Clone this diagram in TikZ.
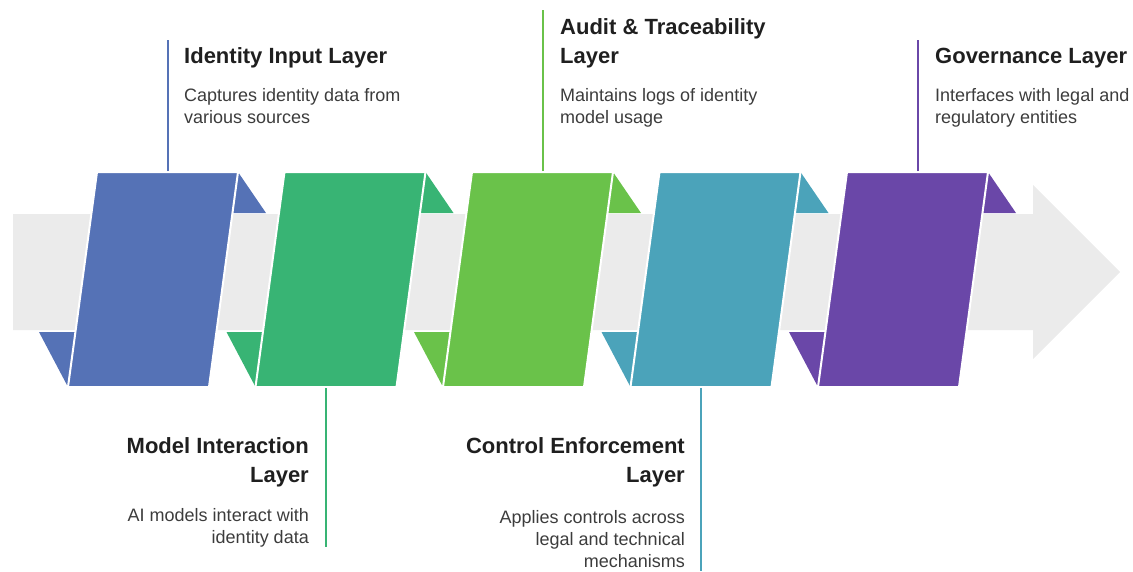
\documentclass[tikz,border=0pt]{standalone}
\usepackage{fontspec}
\setmainfont{Liberation Sans}
\definecolor{cA}{HTML}{5572B6}
\definecolor{cB}{HTML}{38B474}
\definecolor{cC}{HTML}{6AC24A}
\definecolor{cD}{HTML}{4BA3BA}
\definecolor{cE}{HTML}{6A47A8}
\definecolor{bandc}{HTML}{EBEBEB}
\definecolor{ttlc}{HTML}{1F1F1F}
\definecolor{descc}{HTML}{3C3C3C}
\tikzset{
  band/.style={fill=bandc},
  panel/.style={draw=white, line width=2pt},
  conn/.style={line width=2pt},
  ttl/.style={inner sep=0pt, text=ttlc, font=\bfseries\fontsize{22}{29}\selectfont},
  desc/.style={inner sep=0pt, text=descc, font=\fontsize{18}{22}\selectfont},
}
\begin{document}
\begin{tikzpicture}[x=1pt,y=-1pt]
\useasboundingbox (0,0) rectangle (1133,571);
\fill[band] (13,214) -- (1033,214) -- (1033,185) -- (1120,272) -- (1033,359) -- (1033,330) -- (13,330) -- cycle;
\foreach \X/\c/\n in {97/cA/1, 284.5/cB/2, 472/cC/3, 659.5/cD/4, 847/cE/5} {
  \fill[\c] (\X+141,172) -- (\X+135.6,213) -- (\X+169,213) -- cycle;
  \fill[\c] (\X-58,332) -- (\X-21.2,332) -- (\X-29,387) -- cycle;
  \filldraw[panel, fill=\c] (\X,172) -- (\X+141,172) -- (\X+112,387) -- (\X-29,387) -- cycle;
  \coordinate (top\n) at (\X+70.5,171);
  \coordinate (bot\n) at (\X+41.5,388);
}
\coordinate (e1) at (167.5,40);
\coordinate (e2) at (326,547);
\coordinate (e3) at (542.5,10);
\coordinate (e4) at (701,571);
\coordinate (e5) at (917.5,40);
\draw[conn, cA] (top1) -- (e1);
\draw[conn, cB] (bot2) -- (e2);
\draw[conn, cC] (top3) -- (e3);
\draw[conn, cD] (bot4) -- (e4);
\draw[conn, cE] (top5) -- (e5);

\node[ttl, anchor=base west] (t1) at (184,63.5) {Identity Input Layer};
\node[desc, anchor=base west, align=left] (d1) at (184,123) {Captures identity data from\\various sources};
\node[ttl, anchor=base east, align=right] (t2) at (309,482.5) {Model Interaction\\Layer};
\node[desc, anchor=base east, align=right] (d2) at (309,543) {AI models interact with\\identity data};
\node[ttl, anchor=base west, align=left] (t3) at (560,63.5) {Audit \& Traceability\\Layer};
\node[desc, anchor=base west, align=left] (d3) at (560,123) {Maintains logs of identity\\model usage};
\node[ttl, anchor=base east, align=right] (t4) at (685,482.5) {Control Enforcement\\Layer};
\node[desc, anchor=base east, align=right] (d4) at (685,567) {Applies controls across\\legal and technical\\mechanisms};
\node[ttl, anchor=base west] (t5) at (935,63.5) {Governance Layer};
\node[desc, anchor=base west, align=left] (d5) at (935,123) {Interfaces with legal and\\regulatory entities};
\end{tikzpicture}
\end{document}
